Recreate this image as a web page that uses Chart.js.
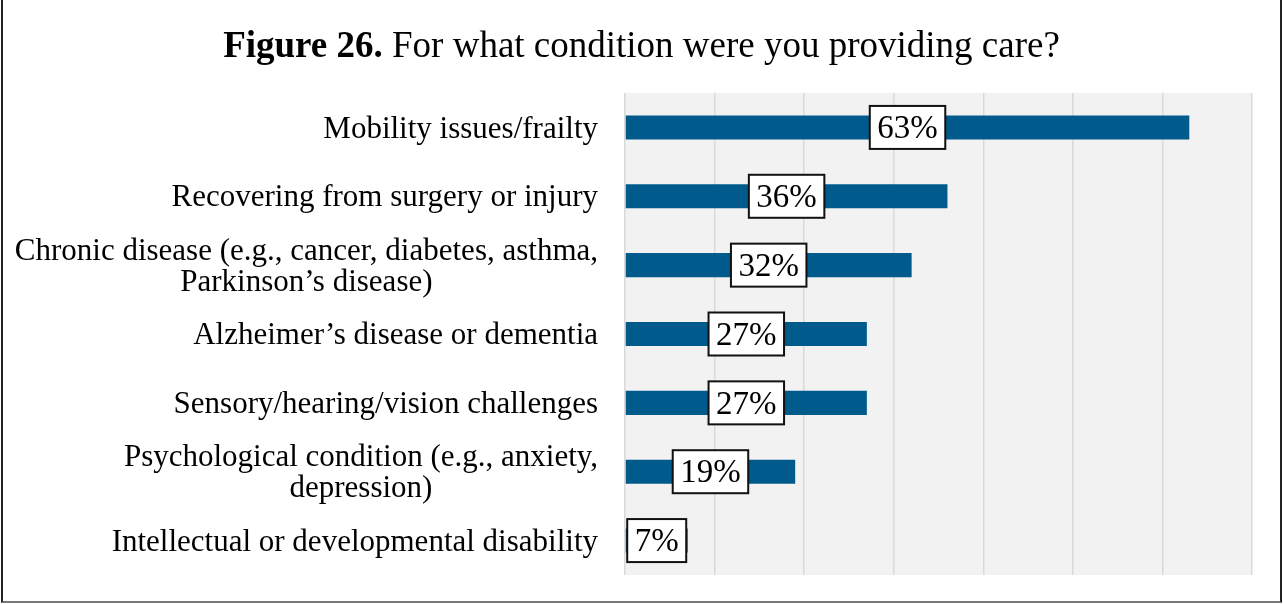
<!DOCTYPE html>
<html>
<head>
<meta charset="utf-8">
<script src="https://cdn.jsdelivr.net/npm/chart.js@4"></script>
<style>
    html, body { margin: 0; padding: 0; background: #fff; }
    #wrap { position: relative; width: 1283px; height: 604px; overflow: hidden; }
    #frame { position: absolute; left: 1px; top: -4px; width: 1281px; height: 607px; border: 2px solid #222; border-bottom-color: #777; box-sizing: border-box; pointer-events: none; }
</style>
</head>
<body>
<div id="wrap">
    <canvas id="mainChart" width="1283" height="604"></canvas>
    <div id="frame"></div>
</div>
<script>
/* =================================================================
   Figure 26 - condition for which care was provided
   ================================================================= */

const conditions = [
    'Mobility issues/frailty',
    'Recovering from surgery or injury',
    ['Chronic disease (e.g., cancer, diabetes, asthma,', 'Parkinson\u2019s disease)'],
    'Alzheimer\u2019s disease or dementia',
    'Sensory/hearing/vision challenges',
    ['Psychological condition (e.g., anxiety,', 'depression)'],
    'Intellectual or developmental disability'
];
const percentages = [63, 36, 32, 27, 27, 19, 7];
const axisMax = 70;
const axisStep = 10;

const FONT = '"Liberation Serif", "DejaVu Serif", serif';
const BAR_COLOR = '#015a8c';
const LABEL_RIGHT = 598;

// grey plot background behind the bars
const plotBackground = {
    id: 'plotBackground',
    beforeDraw(chart) {
        const { ctx, chartArea: a } = chart;
        ctx.save();
        ctx.fillStyle = '#f2f2f2';
        ctx.fillRect(a.left, a.top, a.right - a.left, a.bottom - a.top);
        ctx.restore();
    }
};

// title with a bold "Figure 26." prefix
const mixedTitle = {
    id: 'mixedTitle',
    afterDraw(chart) {
        const ctx = chart.ctx;
        const bold = 'Figure 26.';
        const rest = ' For what condition were you providing care?';
        ctx.save();
        ctx.textBaseline = 'alphabetic';
        ctx.fillStyle = '#000';
        ctx.font = `bold 37px ${FONT}`;
        const wB = ctx.measureText(bold).width;
        ctx.font = `37px ${FONT}`;
        const wR = ctx.measureText(rest).width;
        const x = chart.width / 2 - (wB + wR) / 2;
        const y = 57;
        ctx.font = `bold 37px ${FONT}`;
        ctx.fillText(bold, x, y);
        ctx.font = `37px ${FONT}`;
        ctx.fillText(rest, x + wB, y);
        ctx.restore();
    }
};

// category names: block right-aligned, wrapped lines centred inside it
const categoryLabels = {
    id: 'categoryLabels',
    afterDraw(chart) {
        const ctx = chart.ctx;
        const yScale = chart.scales.y;
        const lineH = 31;
        ctx.save();
        ctx.font = `31px ${FONT}`;
        ctx.fillStyle = '#000';
        ctx.textAlign = 'center';
        ctx.textBaseline = 'middle';
        conditions.forEach((label, i) => {
            const lines = Array.isArray(label) ? label : [label];
            const blockW = Math.max(...lines.map(l => ctx.measureText(l).width));
            const cx = LABEL_RIGHT - blockW / 2;
            const cy = yScale.getPixelForValue(i);
            const y0 = cy - (lines.length - 1) * lineH / 2;
            lines.forEach((l, j) => ctx.fillText(l, cx, y0 + j * lineH + 2));
        });
        ctx.restore();
    }
};

// boxed value labels centred on each bar
const boxedLabels = {
    id: 'boxedLabels',
    afterDatasetsDraw(chart) {
        const ctx = chart.ctx;
        const meta = chart.getDatasetMeta(0);
        const left = chart.chartArea.left;
        ctx.save();
        ctx.font = `33px ${FONT}`;
        ctx.textAlign = 'center';
        ctx.textBaseline = 'middle';
        meta.data.forEach((bar, i) => {
            const text = percentages[i] + '%';
            const w = ctx.measureText(text).width + 15;
            const h = 43;
            let cx = (bar.base + bar.x) / 2;
            cx = Math.max(cx, left + w / 2 - 1);
            const cy = bar.y;
            ctx.fillStyle = '#fff';
            ctx.fillRect(cx - w / 2, cy - h / 2, w, h);
            ctx.strokeStyle = '#111';
            ctx.lineWidth = 2;
            ctx.strokeRect(cx - w / 2, cy - h / 2, w, h);
            ctx.fillStyle = '#000';
            ctx.fillText(text, cx, cy + 2);
        });
        ctx.restore();
    }
};

const ctx = document.getElementById('mainChart').getContext('2d');
new Chart(ctx, {
    type: 'bar',
    data: {
        labels: conditions,
        datasets: [{
            data: percentages,
            backgroundColor: BAR_COLOR,
            borderWidth: 0,
            categoryPercentage: 1,
            barPercentage: 0.35
        }]
    },
    options: {
        indexAxis: 'y',
        responsive: false,
        animation: false,
        layout: { padding: { top: 93, right: 31, bottom: 29, left: 0 } },
        plugins: {
            legend: { display: false },
            title: { display: false },
            tooltip: { enabled: false }
        },
        scales: {
            x: {
                min: 0,
                max: axisMax,
                ticks: { stepSize: axisStep, display: false },
                grid: { color: '#d9d9d9', lineWidth: 1.5, drawTicks: false },
                border: { display: false },
                afterFit(scale) { scale.height = 0; }
            },
            y: {
                ticks: { display: false },
                grid: { display: false, drawTicks: false },
                border: { display: false },
                afterFit(scale) { scale.width = 625; }
            }
        }
    },
    plugins: [plotBackground, mixedTitle, categoryLabels, boxedLabels]
});
</script>
</body>
</html>
